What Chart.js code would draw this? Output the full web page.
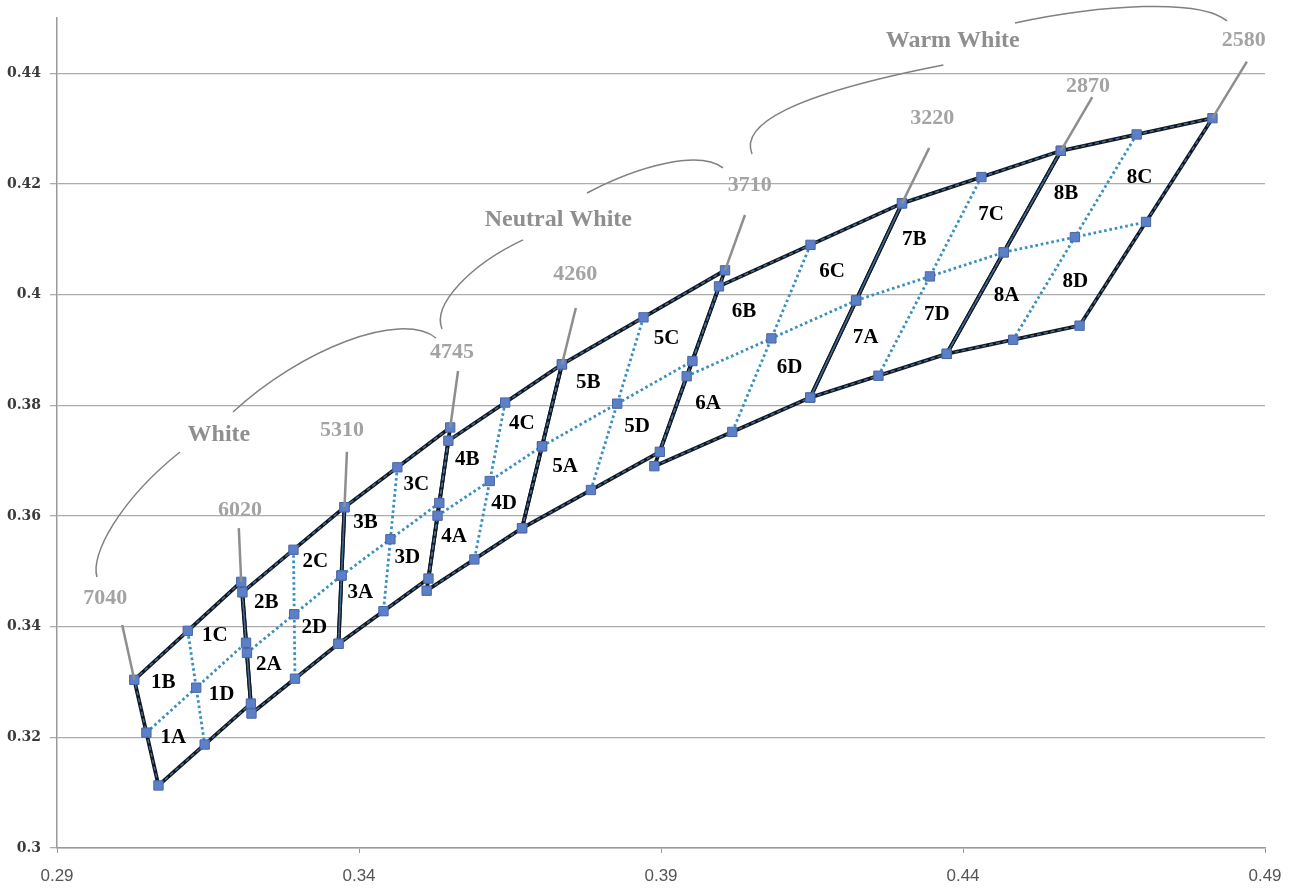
<!DOCTYPE html>
<html>
<head>
<meta charset="utf-8">
<script src="https://cdn.jsdelivr.net/npm/chart.js@4.4.1/dist/chart.umd.min.js"></script>
<style>
  html, body { margin: 0; padding: 0; background: #fff; }
</style>
</head>
<body>
<canvas id="binChart" width="1290" height="890"></canvas>
<script>
// chromaticity bins (x, y) - one quadrangle per bin number
const binNumbers = ['1', '2', '3', '4', '5', '6', '7', '8'];
const subBins = ['A', 'B', 'C', 'D']; // A lower-left, B upper-left, C upper-right, D lower-right

const topLeftX = [0.3028, 0.3207, 0.3376, 0.3548, 0.3736, 0.3996, 0.4299, 0.4562];
const topLeftY = [0.3304, 0.3462, 0.3616, 0.3736, 0.3874, 0.4015, 0.4165, 0.4260];
const topRightX = [0.3205, 0.3376, 0.3551, 0.3736, 0.4006, 0.4299, 0.4562, 0.4813];
const topRightY = [0.3481, 0.3616, 0.3760, 0.3874, 0.4044, 0.4165, 0.4260, 0.4319];
const bottomRightX = [0.3221, 0.3366, 0.3515, 0.3670, 0.3898, 0.4147, 0.4373, 0.4593];
const bottomRightY = [0.3261, 0.3369, 0.3487, 0.3578, 0.3716, 0.3814, 0.3893, 0.3944];
const bottomLeftX = [0.3068, 0.3222, 0.3366, 0.3512, 0.3670, 0.3889, 0.4147, 0.4373];
const bottomLeftY = [0.3113, 0.3243, 0.3369, 0.3465, 0.3578, 0.3690, 0.3814, 0.3893];

const xTicks = [0.29, 0.34, 0.39, 0.44, 0.49];
const yTicks = [0.3, 0.32, 0.34, 0.36, 0.38, 0.4, 0.42, 0.44];

// CCT boundaries (K), left to right
const cctLabels = ['7040', '6020', '5310', '4745', '4260', '3710', '3220', '2870', '2580'];
const groupLabels = ['White', 'Neutral White', 'Warm White'];

// annotation placement, in chart units
const cctTextX = [0.2980, 0.3203, 0.3372, 0.3554, 0.3758, 0.4047, 0.4349, 0.4607, 0.4865];
const cctTextY = [0.3452, 0.3611, 0.3754, 0.3895, 0.4036, 0.4197, 0.4319, 0.4377, 0.4459];
const leaderTopX = [0.3008, 0.3201, 0.3380, 0.3564, 0.3759, 0.4039, 0.4344, 0.4614, 0.4870];
const leaderTopY = [0.3403, 0.3578, 0.3716, 0.3862, 0.3976, 0.4144, 0.4265, 0.4357, 0.4421];
const groupTextX = [0.3168, 0.3730, 0.4383];
const groupTextY = [0.3746, 0.4135, 0.4459];
const bracketCurves = [
  [[[0.29662, 0.34898], [0.29546, 0.35296], [0.30043, 0.3629], [0.31036, 0.37157]],
   [[0.31914, 0.3788], [0.33023, 0.39], [0.34679, 0.39724], [0.35275, 0.39217]]],
  [[[0.35374, 0.3938], [0.35209, 0.39814], [0.35838, 0.40537], [0.36715, 0.40989]],
   [[0.37775, 0.41838], [0.38652, 0.42344], [0.39646, 0.42615], [0.40026, 0.4229]]],
  [[[0.40507, 0.42543], [0.40308, 0.43067], [0.41136, 0.43609], [0.43675, 0.44151]],
   [[0.44861, 0.4491], [0.46268, 0.45236], [0.47924, 0.45362], [0.48371, 0.44947]]]
];

function mid(a, b) { return { x: (a.x + b.x) / 2, y: (a.y + b.y) / 2 }; }
function avg(pts) {
  return {
    x: pts.reduce((s, p) => s + p.x, 0) / pts.length,
    y: pts.reduce((s, p) => s + p.y, 0) / pts.length
  };
}
function quad(i) {
  const q = {
    tl: { x: topLeftX[i], y: topLeftY[i] },
    tr: { x: topRightX[i], y: topRightY[i] },
    br: { x: bottomRightX[i], y: bottomRightY[i] },
    bl: { x: bottomLeftX[i], y: bottomLeftY[i] }
  };
  q.top = mid(q.tl, q.tr);
  q.bottom = mid(q.bl, q.br);
  q.left = mid(q.tl, q.bl);
  q.right = mid(q.tr, q.br);
  q.centre = avg([q.tl, q.tr, q.br, q.bl]);
  return q;
}

const datasets = [];
binNumbers.forEach((b, i) => {
  const q = quad(i);
  const outline = [q.tl, q.tr, q.br, q.bl, q.tl];
  datasets.push({ data: outline, showLine: true, borderColor: '#121821', borderWidth: 3.8, pointRadius: 0, order: 3 });
  datasets.push({ data: outline, showLine: true, borderColor: '#456f9a', borderWidth: 1.4, borderDash: [4, 3], pointRadius: 0, order: 2 });
  datasets.push({ data: [q.top, q.bottom], showLine: true, borderColor: '#3990bd', borderWidth: 2.8, borderDash: [2.6, 2.8], pointRadius: 0, order: 4 });
  datasets.push({ data: [q.left, q.right], showLine: true, borderColor: '#3990bd', borderWidth: 2.8, borderDash: [2.6, 2.8], pointRadius: 0, order: 4 });
  datasets.push({
    data: [q.tl, q.tr, q.br, q.bl, q.top, q.bottom, q.left, q.right, q.centre],
    showLine: false, pointStyle: 'rect', pointRadius: 6.6,
    backgroundColor: '#5b80c9', borderColor: '#4a66a3', borderWidth: 1, order: 0
  });
});

const annotations = {
  id: 'annotations',
  afterDatasetsDraw(chart) {
    const ctx = chart.ctx;
    const xs = chart.scales.x, ys = chart.scales.y;
    const px = v => xs.getPixelForValue(v);
    const py = v => ys.getPixelForValue(v);
    ctx.save();

    // sub-bin labels at the centre of each quarter
    ctx.font = 'bold 21px "Liberation Serif", "Times New Roman", serif';
    ctx.fillStyle = '#000';
    ctx.textAlign = 'center';
    ctx.textBaseline = 'middle';
    binNumbers.forEach((b, i) => {
      const q = quad(i);
      const quarters = [
        [q.bl, q.left, q.centre, q.bottom],
        [q.tl, q.top, q.centre, q.left],
        [q.tr, q.right, q.centre, q.top],
        [q.br, q.bottom, q.centre, q.right]
      ];
      quarters.forEach((pts, k) => {
        const c = avg(pts);
        ctx.fillText(b + subBins[k], px(c.x) - 3, py(c.y));
      });
    });

    // CCT leaders and labels
    const anchors = [quad(0).tl].concat(binNumbers.map((b, i) => quad(i).tr));
    ctx.strokeStyle = '#8e8e8e';
    ctx.lineWidth = 2.5;
    anchors.forEach((a, i) => {
      ctx.beginPath();
      ctx.moveTo(px(leaderTopX[i]), py(leaderTopY[i]));
      ctx.lineTo(px(a.x), py(a.y));
      ctx.stroke();
    });
    ctx.fillStyle = '#a3a3a3';
    ctx.font = 'bold 22px "Liberation Serif", "Times New Roman", serif';
    cctLabels.forEach((t, i) => ctx.fillText(t, px(cctTextX[i]), py(cctTextY[i])));

    // group brackets
    ctx.strokeStyle = '#808080';
    ctx.lineWidth = 1.5;
    bracketCurves.forEach(segs => {
      segs.forEach(s => {
        ctx.beginPath();
        ctx.moveTo(px(s[0][0]), py(s[0][1]));
        ctx.bezierCurveTo(px(s[1][0]), py(s[1][1]), px(s[2][0]), py(s[2][1]), px(s[3][0]), py(s[3][1]));
        ctx.stroke();
      });
    });
    ctx.fillStyle = '#8f8f8f';
    ctx.font = 'bold 24px "Liberation Serif", "Times New Roman", serif';
    groupLabels.forEach((t, i) => ctx.fillText(t, px(groupTextX[i]), py(groupTextY[i])));
    ctx.restore();
  }
};

const fmt = v => String(Number(Number(v).toFixed(2)));

new Chart(document.getElementById('binChart'), {
  type: 'scatter',
  data: { datasets: datasets },
  options: {
    responsive: false,
    animation: false,
    events: [],
    layout: { padding: { top: 18, right: 25, left: 0, bottom: 0 } },
    plugins: { legend: { display: false }, tooltip: { enabled: false } },
    scales: {
      x: {
        type: 'linear',
        min: 0.29,
        max: 0.49,
        afterBuildTicks: s => { s.ticks = xTicks.map(v => ({ value: v })); },
        afterFit: s => { s.height = 42; s.paddingRight = 0; s.paddingLeft = 0; },
        grid: { drawOnChartArea: false, drawTicks: true, tickLength: 5, color: '#9a9a9a' },
        border: { color: '#9a9a9a', width: 1.5 },
        ticks: {
          callback: fmt,
          padding: 13,
          maxRotation: 0,
          color: '#555',
          font: { family: '"Liberation Sans Narrow", "Liberation Sans", sans-serif', size: 17 }
        }
      },
      y: {
        type: 'linear',
        min: 0.3,
        max: 0.45,
        afterBuildTicks: s => { s.ticks = yTicks.map(v => ({ value: v })); },
        afterFit: s => { s.width = 57; },
        grid: { color: '#acacac', lineWidth: 1.3, tickLength: 7 },
        border: { color: '#9a9a9a', width: 1.5 },
        ticks: {
          callback: fmt,
          padding: 9,
          color: '#3a3a3a',
          font: { family: '"DejaVu Serif", serif', size: 14, weight: 'bold' }
        }
      }
    }
  },
  plugins: [annotations]
});
</script>
</body>
</html>
